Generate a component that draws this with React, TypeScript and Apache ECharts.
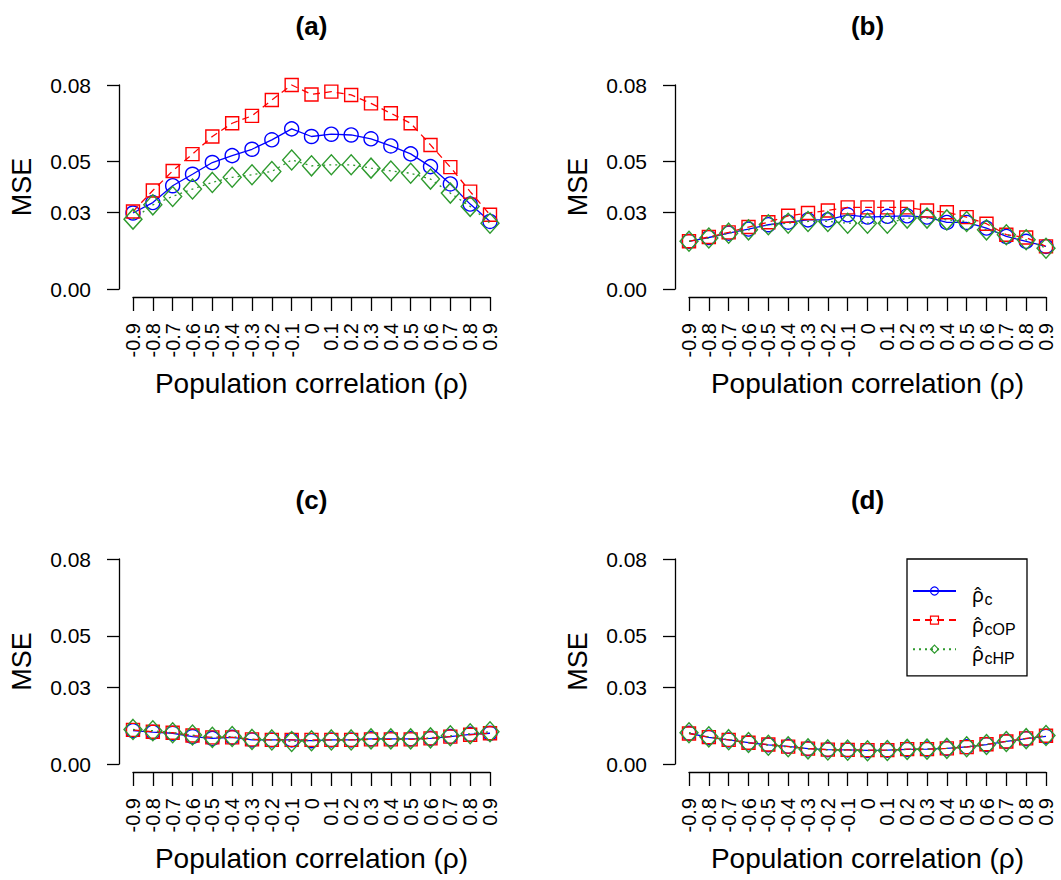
import React, { useEffect, useRef } from "react";
import * as echarts from "echarts";

// ---- data ----
const rho = [-0.9, -0.8, -0.7, -0.6, -0.5, -0.4, -0.3, -0.2, -0.1, 0, 0.1, 0.2, 0.3, 0.4, 0.5, 0.6, 0.7, 0.8, 0.9];
const yTicks = [0, 0.03, 0.05, 0.08];
const panelTitles = ["(a)", "(b)", "(c)", "(d)"];
const seriesNames = ["c", "cOP", "cHP"];
const legendSubs = ["c", "cOP", "cHP"];

const aC = [0.0298, 0.0339, 0.0405, 0.045, 0.0496, 0.0523, 0.0548, 0.0585, 0.0628, 0.0598, 0.0607, 0.0604, 0.0589, 0.0561, 0.053, 0.048, 0.0412, 0.0333, 0.0265];
const aCOP = [0.0304, 0.0386, 0.0463, 0.0529, 0.0598, 0.065, 0.0679, 0.0741, 0.08, 0.0763, 0.0774, 0.0761, 0.0728, 0.0689, 0.065, 0.0565, 0.0478, 0.0382, 0.0291];
const aCHP = [0.0274, 0.033, 0.0363, 0.0392, 0.0418, 0.0438, 0.0448, 0.0461, 0.0506, 0.0483, 0.0487, 0.0487, 0.0474, 0.0463, 0.0454, 0.0431, 0.0376, 0.0324, 0.0258];

const bC = [0.0187, 0.0202, 0.0219, 0.0235, 0.0252, 0.0262, 0.0271, 0.0271, 0.0291, 0.0282, 0.0285, 0.0287, 0.0282, 0.0261, 0.0261, 0.0239, 0.0206, 0.0187, 0.0167];
const bCOP = [0.0187, 0.0204, 0.0222, 0.0243, 0.0262, 0.0287, 0.0298, 0.0308, 0.032, 0.032, 0.032, 0.032, 0.0308, 0.0301, 0.0282, 0.0256, 0.0213, 0.0202, 0.0167];
const bCHP = [0.0187, 0.02, 0.0219, 0.0232, 0.0252, 0.0258, 0.0265, 0.0265, 0.0258, 0.0258, 0.0258, 0.0278, 0.0278, 0.0271, 0.0265, 0.0232, 0.0213, 0.0193, 0.016];

const cC = [0.013, 0.0124, 0.012, 0.0107, 0.01, 0.0104, 0.0094, 0.0094, 0.0094, 0.0091, 0.0094, 0.0094, 0.0098, 0.0098, 0.0098, 0.01, 0.0107, 0.0116, 0.012];
const cCOP = [0.0133, 0.0126, 0.0122, 0.0111, 0.0104, 0.0104, 0.0096, 0.0094, 0.0094, 0.0094, 0.0094, 0.0094, 0.0096, 0.0096, 0.0096, 0.01, 0.0107, 0.0114, 0.012];
const cCHP = [0.0135, 0.013, 0.0122, 0.0113, 0.0104, 0.0107, 0.0096, 0.0094, 0.0088, 0.0091, 0.0094, 0.0094, 0.0098, 0.0098, 0.0098, 0.0102, 0.011, 0.0118, 0.0126];

const dC = [0.012, 0.0104, 0.0094, 0.0083, 0.0075, 0.0069, 0.006, 0.0056, 0.0055, 0.0053, 0.0054, 0.0057, 0.0058, 0.0061, 0.0067, 0.0076, 0.0088, 0.0099, 0.0108];
const dCOP = [0.0119, 0.0105, 0.0094, 0.0083, 0.0076, 0.0068, 0.006, 0.0056, 0.0055, 0.0054, 0.0054, 0.0058, 0.0058, 0.0061, 0.0066, 0.0077, 0.0088, 0.01, 0.011];
const dCHP = [0.0122, 0.0106, 0.0095, 0.0084, 0.0073, 0.0067, 0.0059, 0.0055, 0.0054, 0.0052, 0.0053, 0.0057, 0.0058, 0.0061, 0.0067, 0.0076, 0.0088, 0.0099, 0.0111];

const panelData = [
  [aC, aCOP, aCHP],
  [bC, bCOP, bCHP],
  [cC, cCOP, cCHP],
  [dC, dCOP, dCHP],
];

// ---- styles ----
const FONT = '"Liberation Sans", Arial, sans-serif';
const MATH_FONT = '"Noto Sans", "DejaVu Sans", sans-serif';
const COLORS = ["#0000ff", "#ff0000", "#2e9a2e"];
const SYMBOLS = ["circle", "rect", "diamond"];
const SYMBOL_SIZES: any[] = [14, 13, [18, 20]];
const LINE_TYPES: any[] = ["solid", [7, 5], [2, 4]];

const grids = [
  { left: 133, top: 85, width: 357, height: 204 },
  { left: 689, top: 85, width: 357, height: 204 },
  { left: 133, top: 559, width: 357, height: 205 },
  { left: 689, top: 559, width: 357, height: 205 },
];
const titlePos = [
  [311.5, 26],
  [867.5, 26],
  [311.5, 500],
  [867.5, 500],
];
// legend label layout (rows centred on legend icons)
const legendRowY = [591, 621, 650];
const legendTextX = 972;

export default function App() {
  const ref = useRef<HTMLDivElement>(null);
  useEffect(() => {
    if (!ref.current) return;
    const chart = echarts.init(ref.current, null, { renderer: "svg" });
    const axisLineStyle = { color: "#000", width: 1.3 };

    const xAxes = grids.map((_, i) => ({
      gridIndex: i,
      type: "value",
      min: -0.9,
      max: 0.9,
      offset: 8,
      axisLine: { show: true, onZero: false, lineStyle: axisLineStyle },
      axisTick: { show: true, length: 14, customValues: rho, lineStyle: axisLineStyle },
      axisLabel: {
        customValues: rho,
        hideOverlap: false,
        rotate: 90,
        margin: 26,
        fontSize: 20,
        fontFamily: FONT,
        color: "#000",
        formatter: (v: number) => (Math.abs(v) < 1e-9 ? "0" : (Math.round(v * 10) / 10).toFixed(1)),
      },
      splitLine: { show: false },
      name: "Population correlation (ρ)",
      nameLocation: "middle",
      nameGap: 72,
      nameTextStyle: { fontSize: 28, fontFamily: FONT, color: "#000" },
    }));

    const yAxes = grids.map((_, i) => ({
      gridIndex: i,
      type: "value",
      min: 0,
      max: 0.08,
      offset: 14,
      axisLine: { show: true, onZero: false, lineStyle: axisLineStyle },
      axisTick: { show: true, length: 12, customValues: yTicks, lineStyle: axisLineStyle },
      axisLabel: {
        customValues: yTicks,
        margin: 28,
        fontSize: 21,
        fontFamily: FONT,
        color: "#000",
        formatter: (v: number) => v.toFixed(2),
      },
      splitLine: { show: false },
      name: "MSE",
      nameLocation: "middle",
      nameGap: 84,
      nameTextStyle: { fontSize: 27, fontFamily: FONT, color: "#000" },
    }));

    const series: any[] = [];
    panelData.forEach((panel, p) => {
      panel.forEach((vals, s) => {
        series.push({
          name: seriesNames[s],
          type: "line",
          xAxisIndex: p,
          yAxisIndex: p,
          data: rho.map((r, k) => [r, vals[k]]),
          symbol: SYMBOLS[s],
          symbolSize: SYMBOL_SIZES[s],
          clip: false,
          itemStyle: { color: "rgba(255,255,255,0)", borderColor: COLORS[s], borderWidth: 1.4 },
          lineStyle: { color: COLORS[s], width: 1.3, type: LINE_TYPES[s] },
          emphasis: { disabled: true },
          z: 2 + s,
        });
      });
    });

    const legendLabels: any[] = [];
    legendSubs.forEach((sub, i) => {
      const y = legendRowY[i];
      legendLabels.push(
        {
          type: "text",
          x: legendTextX,
          y: y + 3,
          style: { text: "ρ\u0302", font: `20px ${MATH_FONT}`, lineHeight: 12, fill: "#000", textAlign: "left", textVerticalAlign: "middle" },
        },
        {
          type: "text",
          x: legendTextX + 12.5,
          y: y + 8,
          style: { text: sub, font: `16px ${FONT}`, lineHeight: 10, fill: "#000", textAlign: "left", textVerticalAlign: "middle" },
        }
      );
    });

    const option: any = {
      animation: false,
      backgroundColor: "#fff",
      grid: grids.map((g) => ({ ...g, containLabel: false })),
      xAxis: xAxes,
      yAxis: yAxes,
      series,
      legend: {
        data: seriesNames.map((n, i) => ({
          name: n,
          itemStyle: { color: "rgba(255,255,255,0)", borderColor: COLORS[i], borderWidth: 1.2 },
        })),
        orient: "vertical",
        left: 907,
        top: 559,
        padding: [27, 70, 22, 5],
        itemGap: 19.5,
        itemWidth: 43,
        itemHeight: 10,
        borderColor: "#000",
        borderWidth: 1.3,
        backgroundColor: "#fff",
        selectedMode: false,
        formatter: () => "",
        textStyle: { fontSize: 1 },
      },
      graphic: [
        ...panelTitles.map((t, i) => ({
          type: "text",
          x: titlePos[i][0],
          y: titlePos[i][1],
          style: {
            text: t,
            font: `bold 26px ${FONT}`,
            fill: "#000",
            textAlign: "center",
            textVerticalAlign: "middle",
          },
        })),
        ...legendLabels.map((g) => ({ ...g, z: 100 })),
      ],
    };
    chart.setOption(option);
    return () => chart.dispose();
  }, []);
  return (
    <div
      ref={ref}
      style={{ position: "fixed", left: 0, top: 0, width: 1061, height: 880 }}
    />
  );
}
